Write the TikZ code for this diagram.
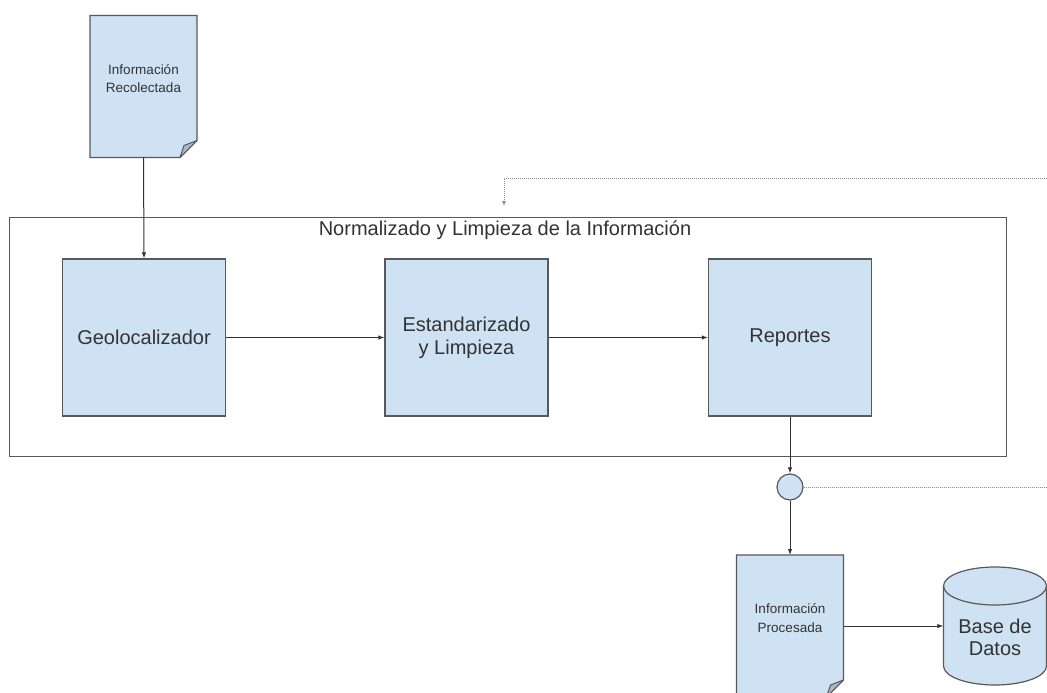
\documentclass[tikz,border=0pt]{standalone}
\usepackage{fontspec}
\setmainfont{Liberation Sans}
\usetikzlibrary{arrows.meta}
\definecolor{boxfill}{HTML}{CFE2F3}
\definecolor{edgec}{HTML}{595959}
\definecolor{txtc}{HTML}{333333}
\definecolor{foldfill}{HTML}{A9B8C6}
\definecolor{dotc}{HTML}{8A8A8A}
\begin{document}
\begin{tikzpicture}[x=1pt,y=-1pt,
  proc/.style={draw=edgec, line width=1.2pt, fill=boxfill, minimum width=163pt, minimum height=157pt, inner sep=0pt, align=center, font=\fontsize{20}{23}\selectfont, text=txtc},
  docbox/.style={minimum width=107pt, minimum height=142pt, inner sep=0pt, outer sep=0pt},
  docshape/.style={draw=edgec, line width=1.2pt, fill=boxfill, line join=miter},
  foldshape/.style={draw=edgec, line width=1pt, fill=foldfill, line join=round},
  smalltxt/.style={align=center, font=\fontsize{13.5}{18.5}\selectfont, text=txtc},
  conn/.style={draw=txtc, line width=1pt, -{Latex[length=6pt,width=4.5pt]}},
  dotline/.style={draw=dotc, line width=1pt, dash pattern=on 1pt off 1pt},
]
\useasboundingbox (0,0) rectangle (1047,693);
\clip (0,0) rectangle (1047,693);
\fill[white] (0,0) rectangle (1047,693);

% container
\node[draw=edgec, line width=1pt, minimum width=997pt, minimum height=239pt, inner sep=0pt] (cont) at (507.5,336.5) {};
\node[anchor=base, font=\fontsize{20}{23}\selectfont, text=txtc] (title) at (505,235) {Normalizado y Limpieza de la Información};

% document 1
\node[docbox] (d1) at (143.5,86.5) {};
\draw[docshape] (d1.north west) -- (d1.north east) -- ([yshift=17pt]d1.south east) -- ([xshift=-17pt]d1.south east) -- (d1.south west) -- cycle;
\draw[foldshape] ([yshift=17pt]d1.south east) -- ([xshift=-13pt,yshift=12pt]d1.south east) -- ([xshift=-17pt]d1.south east) -- cycle;
\node[smalltxt] (d1t) at ([yshift=8pt]d1.center) {Información\\Recolectada};

% process boxes
\node[proc] (geo) at (144,337.5) {Geolocalizador};
\node[proc] (est) at (466.5,337.5) {Estandarizado\\y Limpieza};
\node[proc] (rep) at (790,337.5) {Reportes};

% junction
\node[circle, draw=edgec, line width=1.2pt, fill=boxfill, minimum size=26pt, inner sep=0pt] (junc) at (790,487) {};

% document 2
\node[docbox] (d2) at (790,626) {};
\draw[docshape] (d2.north west) -- (d2.north east) -- ([yshift=17pt]d2.south east) -- ([xshift=-17pt]d2.south east) -- (d2.south west) -- cycle;
\draw[foldshape] ([yshift=17pt]d2.south east) -- ([xshift=-13pt,yshift=12pt]d2.south east) -- ([xshift=-17pt]d2.south east) -- cycle;
\node[smalltxt] (d2t) at ([yshift=8pt]d2.center) {Información\\Procesada};

% database cylinder
\node[minimum width=103pt, minimum height=118pt, inner sep=0pt] (db) at (995,626) {};
\draw[draw=edgec, line width=1.2pt, fill=boxfill]
  (943.5,586) -- (943.5,666) arc[start angle=180, end angle=360, x radius=51.5pt, y radius=19pt]
  -- (1046.5,586) arc[start angle=0, end angle=180, x radius=51.5pt, y radius=19pt] -- cycle;
\draw[draw=edgec, line width=1.2pt] (943.5,586) arc[start angle=180, end angle=360, x radius=51.5pt, y radius=19pt];
\node[align=center, font=\fontsize{20}{22}\selectfont, text=txtc] (dbt) at (995,637) {Base de\\Datos};

% connectors
\draw[conn] (d1.south) -- (geo.north);
\draw[conn] (geo.east) -- (est.west);
\draw[conn] (est.east) -- (rep.west);
\draw[conn] (rep.south) -- (junc.north);
\draw[conn] (junc.south) -- (d2.north);
\draw[conn] (d2.east) -- (d2.east -| db.west);

% dotted feedback lines
\coordinate (r1) at (1047,178);
\coordinate (tip) at (504,206);
\coordinate (r2) at (1047,487);
\draw[dotline, -{Latex[length=5pt,width=4pt]}] (r1) -| (tip);
\draw[dotline] (junc.east) -- (r2);
\end{tikzpicture}
\end{document}
